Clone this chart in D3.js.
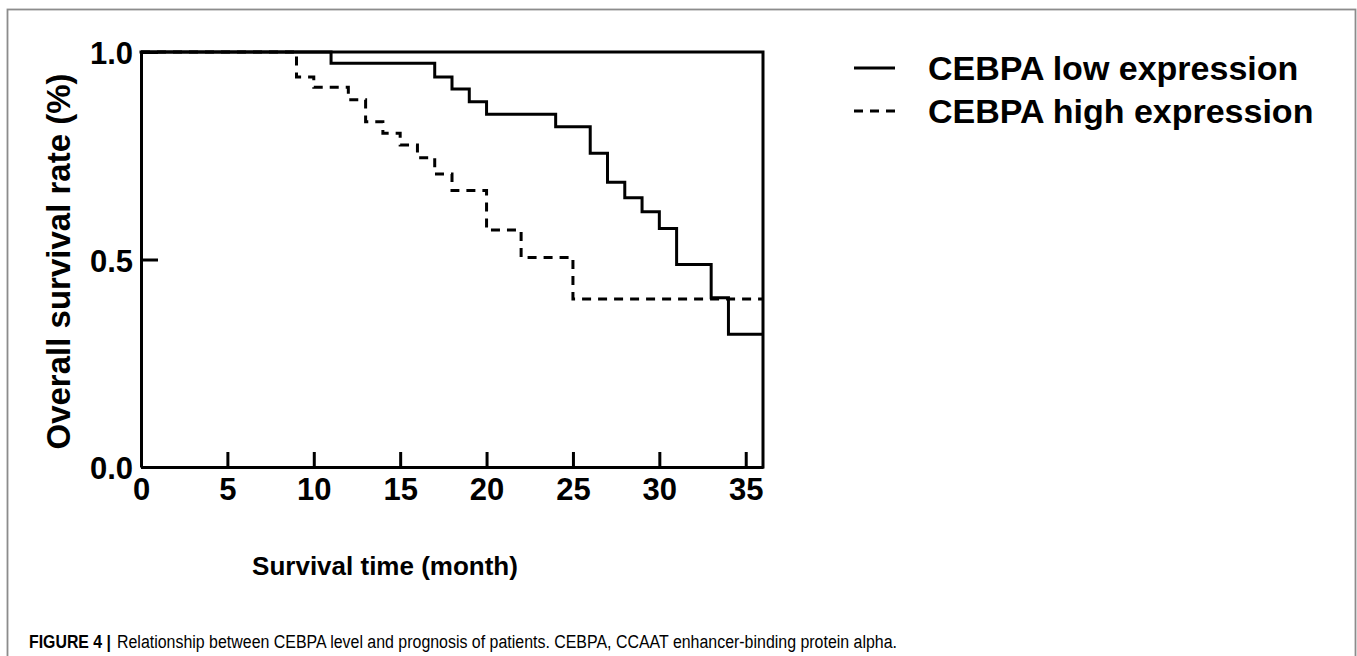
<!DOCTYPE html>
<html>
<head>
<meta charset="utf-8">
<script src="https://cdn.jsdelivr.net/npm/d3@7"></script>
<style>
  html, body { margin: 0; padding: 0; background: #fff; }
  svg { display: block; }
  text { font-family: "Liberation Sans", Arial, Helvetica, sans-serif; fill: #000; }
</style>
</head>
<body>
<div id="chart"></div>
<script>
// Kaplan-Meier steps (month, survival)
const lowTimes = [0, 11, 17, 18, 19, 20, 24, 26, 27, 28, 29, 30, 31, 33, 34, 36]
const lowSurvival = [1.0, 0.973, 0.94, 0.911, 0.88, 0.85, 0.82, 0.756, 0.686, 0.649, 0.615, 0.575, 0.488, 0.408, 0.32, 0.32]
const highTimes = [0, 9, 10, 12, 13, 14, 15, 16, 17, 18, 20, 22, 25, 36]
const highSurvival = [1.0, 0.94, 0.915, 0.885, 0.832, 0.804, 0.776, 0.745, 0.706, 0.666, 0.571, 0.505, 0.405, 0.405]

const xTicks = [0, 5, 10, 15, 20, 25, 30, 35]
const yTicks = [0, 0.5, 1.0]
const seriesNames = ["CEBPA low expression", "CEBPA high expression"]
const xTitle = "Survival time (month)"
const yTitle = "Overall survival rate (%)"
const captionLead = "FIGURE 4 |"
const captionText = "Relationship between CEBPA level and prognosis of patients. CEBPA, CCAAT enhancer-binding protein alpha."

const W = 1357, H = 656
const plot = { left: 141, right: 763, top: 52, bottom: 467 }

const svg = d3.select("#chart").append("svg")
    .attr("width", W)
    .attr("height", H)

// outer figure frame (runs off the bottom edge)
svg.append("rect")
    .attr("x", 7.5).attr("y", 9.5)
    .attr("width", 1348).attr("height", 700)
    .attr("fill", "none")
    .attr("stroke", "#8c8c8c")
    .attr("stroke-width", 1.8)

const x = d3.scaleLinear().domain([0, 36]).range([plot.left, plot.right])
const y = d3.scaleLinear().domain([0, 1]).range([plot.bottom, plot.top])

const g = svg.append("g")

// x axis, ticks pointing inward
const xAxis = g.append("g")
    .attr("transform", "translate(0," + plot.bottom + ")")
    .call(d3.axisBottom(x).tickValues(xTicks).tickSize(-15).tickSizeOuter(0).tickPadding(11))
xAxis.select(".domain").attr("stroke-width", 3)
xAxis.selectAll(".tick line").attr("stroke-width", 3)
xAxis.selectAll(".tick text")
    .style("font-size", "31px").style("font-weight", "bold")
    .attr("fill", "#000")

// y axis
const yAxis = g.append("g")
    .attr("transform", "translate(" + plot.left + ",0)")
    .call(d3.axisLeft(y).tickValues(yTicks).tickFormat(d3.format(".1f")).tickSize(-17).tickSizeOuter(0).tickPadding(8))
yAxis.select(".domain").attr("stroke-width", 3)
yAxis.selectAll(".tick line").attr("stroke-width", 3)
yAxis.selectAll(".tick text")
    .style("font-size", "31px").style("font-weight", "bold")
    .attr("dy", "0.38em")
    .attr("fill", "#000")

// top and right frame
g.append("path")
    .attr("d", d3.line()([[x(0), y(1)], [x(36), y(1)], [x(36), y(0)]]))
    .attr("fill", "none")
    .attr("stroke", "#000")
    .attr("stroke-width", 3)
    .attr("stroke-linecap", "square")

// survival curves
const step = d3.line()
    .x(d => x(d[0]))
    .y(d => y(d[1]))
    .curve(d3.curveStepAfter)

const lowData = lowTimes.map((t, i) => [t, lowSurvival[i]])
const highData = highTimes.map((t, i) => [t, highSurvival[i]])

g.append("path")
    .datum(highData)
    .attr("d", step)
    .attr("fill", "none")
    .attr("stroke", "#000")
    .attr("stroke-width", 3)
    .attr("stroke-dasharray", "9,7")

g.append("path")
    .datum(lowData)
    .attr("d", step)
    .attr("fill", "none")
    .attr("stroke", "#000")
    .attr("stroke-width", 3)

// axis titles
g.append("text")
    .attr("x", 385)
    .attr("y", 575)
    .attr("text-anchor", "middle")
    .style("font-size", "26px").style("font-weight", "bold")
    .text(xTitle)

g.append("text")
    .attr("transform", "translate(70," + ((plot.top + plot.bottom) / 2 + 2) + ") rotate(-90)")
    .attr("text-anchor", "middle")
    .style("font-size", "33px").style("font-weight", "bold")
    .text(yTitle)

// legend
const legend = svg.append("g")
const legendY = [68, 111]
seriesNames.forEach((name, i) => {
    legend.append("line")
        .attr("x1", 854).attr("x2", 895)
        .attr("y1", legendY[i]).attr("y2", legendY[i])
        .attr("stroke", "#000")
        .attr("stroke-width", 3)
        .attr("stroke-dasharray", i === 1 ? "9,7" : null)
    legend.append("text")
        .attr("x", 928)
        .attr("y", legendY[i])
        .attr("dy", "0.36em")
        .style("font-size", "34px").style("font-weight", "bold")
        .text(name)
})

// caption, squeezed to the narrow face used in the figure
svg.append("text")
    .attr("x", 29)
    .attr("y", 648)
    .attr("textLength", 82)
    .attr("lengthAdjust", "spacingAndGlyphs")
    .style("font-size", "18px").style("font-weight", "bold")
    .attr("fill", "#231f20")
    .text(captionLead)

svg.append("text")
    .attr("x", 117)
    .attr("y", 648)
    .attr("textLength", 780)
    .attr("lengthAdjust", "spacingAndGlyphs")
    .style("font-size", "18px")
    .attr("fill", "#333")
    .text(captionText)
</script>
</body>
</html>
